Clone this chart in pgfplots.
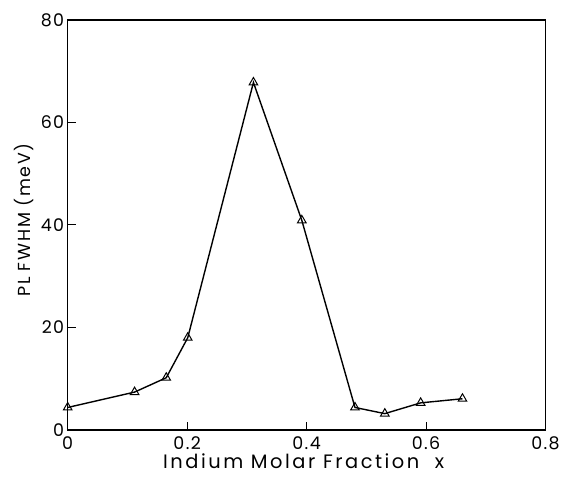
\documentclass[border=0pt]{standalone}
\usepackage{pgfplots}
\pgfplotsset{compat=1.18}
\usetikzlibrary{calc}
\usepackage{fontspec}
\setmainfont{Poppins}
\newfontfamily\tickfont[LetterSpace=8]{Poppins}
\newfontfamily\xlabfont[LetterSpace=13]{Poppins}
\newfontfamily\ylabfont[LetterSpace=10]{Poppins}
\begin{document}
\begin{tikzpicture}
\begin{axis}[
  scale only axis,
  width=480pt, height=412pt,
  xmin=0, xmax=0.8, ymin=0, ymax=80,
  xtick={0,0.2,0.4,0.6,0.8},
  ytick={0,20,40,60,80},
  xticklabels={0,0.2,0.4,0.6,0.8},
  yticklabels={0,20,40,60,80},
  tick pos=left,
  tick align=inside,
  major tick length=8pt,
  axis line style={line width=1.5pt},
  tick style={line width=1pt, black},
  tick label style={font=\tickfont\fontsize{17.5}{19}\selectfont},
  xticklabel style={yshift=-3pt},
  xlabel={Indium Molar Fraction\ \ x},
  ylabel={PL FWHM (meV)},
  xlabel style={font=\xlabfont\fontsize{19.5}{21}\selectfont,
    at={(axis description cs:0.5,0)}, anchor=base, inner sep=0pt,
    yshift=-39pt, xshift=-3pt},
  ylabel style={font=\ylabfont\fontsize{17.5}{19}\selectfont,
    at={(axis description cs:0,0.5)}, anchor=center, inner sep=0pt,
    xshift=5pt, yshift=44pt},
  clip=false,
]
\addplot[black, line width=1.4pt, mark=triangle, mark size=5pt,
  mark options={fill=white, line width=1pt, solid}] coordinates {
  (0.000, 4.4)
  (0.112, 7.4)
  (0.165, 10.2)
  (0.201, 18.0)
  (0.311, 67.8)
  (0.392, 40.9)
  (0.481, 4.4)
  (0.531, 3.2)
  (0.591, 5.3)
  (0.661, 6.1)
};
\end{axis}
\path ($(current axis.south west)+(-68pt,-47pt)$) rectangle ($(current axis.north east)+(15pt,20pt)$);
\end{tikzpicture}
\end{document}
